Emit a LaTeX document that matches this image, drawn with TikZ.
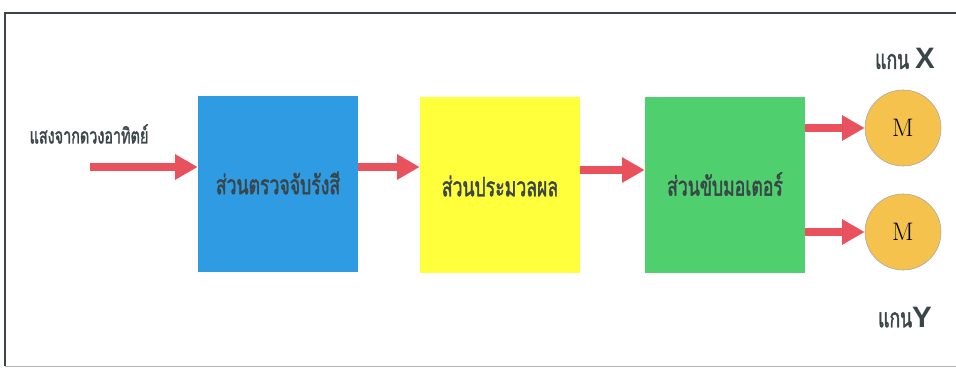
\documentclass[tikz,border=0pt]{standalone}
\usepackage{fontspec}
\usetikzlibrary{arrows.meta}
\newfontfamily\thaifont[Script=Thai,FakeStretch=0.66,FakeBold=1.5]{Loma}
\newfontfamily\latinbold{Liberation Sans}
\definecolor{detectblue}{HTML}{2E9BE2}
\definecolor{procyellow}{HTML}{FFFF3C}
\definecolor{drivegreen}{HTML}{4FCF6E}
\definecolor{motororange}{HTML}{F6C24E}
\definecolor{arrowred}{HTML}{E9525C}
\definecolor{textgray}{HTML}{3A4548}
\begin{document}
\begin{tikzpicture}[
    x=0.025cm, y=-0.025cm,
    block/.style={minimum width=4cm, minimum height=4.4cm, inner sep=0pt},
    motor/.style={circle, draw=gray!70, fill=motororange, minimum size=1.9cm, inner sep=0pt, font=\fontsize{18}{18}\selectfont},
    label/.style={text=textgray, font=\thaifont\fontsize{15.5}{15.5}\selectfont},
    boxlabel/.style={label, font=\thaifont\fontsize{19}{19}\selectfont},
    flow/.style={arrowred, line width=5.5pt, -{Triangle[length=16pt, width=17pt]}}
]
\useasboundingbox (0,0) rectangle (956,368);
% frame
\draw[textgray, line width=2pt] (5,366) -- (5,13) -- (956,13);
\draw[gray!60, line width=0.6pt] (5,366) -- (956,366);

% blocks
\node[block, fill=detectblue] (detect) at (278,184) {};
\node[block, fill=procyellow] (proc) at (500,185) {};
\node[block, fill=drivegreen] (drive) at (725,185) {};
\node[boxlabel] at (278,183) {ส่วนตรวจจับรังสี};
\node[boxlabel] at (500,186) {ส่วนประมวลผล};
\node[boxlabel] at (725,184) {ส่วนขับมอเตอร์};

% motors
\node[motor] (mx) at (903,128) {M};
\node[motor] (my) at (903,232) {M};
\node[boxlabel, anchor=south] (ax) at (905,74) {แกน \latinbold\bfseries\fontsize{21}{21}\selectfont X};
\node[boxlabel, anchor=north] (ay) at (905,302) {แกน\latinbold\bfseries\fontsize{21}{21}\selectfont Y};

% input
\node[label] (sun) at (89,134) {แสงจากดวงอาทิตย์};
\coordinate (in) at (90,167);

% connectors
\draw[flow] (in) -- (detect.west |- in);
\draw[flow] (detect.east |- 0,167) -- (proc.west |- 0,167);
\draw[flow] (proc.east |- 0,170) -- (drive.west |- 0,170);
\draw[flow] (drive.east |- mx) -- (mx.west);
\draw[flow] (drive.east |- my) -- (my.west);
\end{tikzpicture}
\end{document}
